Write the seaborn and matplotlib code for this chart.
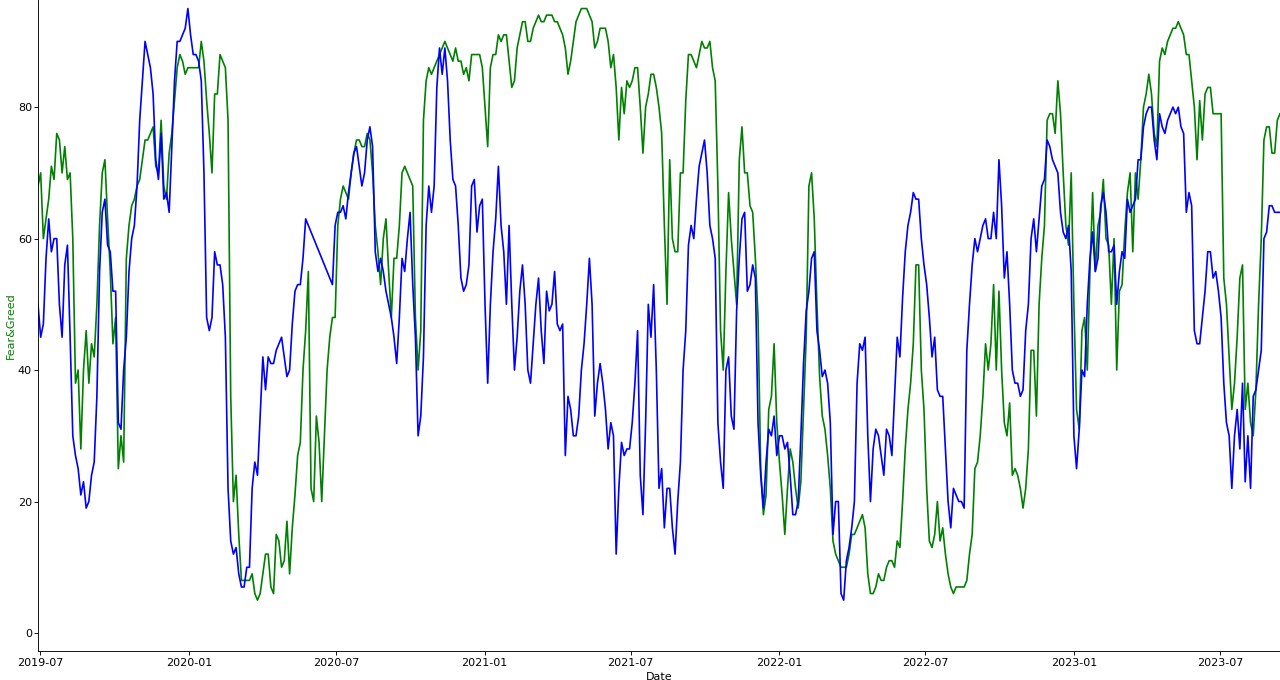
import numpy as np
import pandas as pd
import matplotlib
matplotlib.use("Agg")
import matplotlib.pyplot as plt
import matplotlib.dates as mdates
import seaborn as sns

# values, about twice a week
start_date = "2019-06-28"
end_date = "2023-09-13"

# readings on the weekly grid
fear_greed_week = [
    68, 60, 66, 69, 75, 74, 70, 38, 28, 46,
    44, 50, 70, 63, 44, 25, 26, 62, 66, 69,
    75, 76, 71, 78, 66, 76, 86, 87, 86, 86,
    86, 87, 76, 82, 88, 86, 36, 24, 8, 8,
    9, 5, 9, 12, 6, 14, 11, 9, 21, 29,
    46, 22, 33, 20, 40, 48, 62, 68, 66, 73,
    75, 74, 75, 62, 53, 63, 48, 57, 70, 70,
    68, 40, 78, 86, 86, 88, 90, 88, 89, 87,
    86, 88, 88, 86, 74, 88, 91, 91, 87, 84,
    91, 93, 90, 93, 93, 94, 94, 93, 91, 85,
    90, 94, 95, 94, 89, 92, 92, 86, 83, 83,
    84, 84, 86, 73, 82, 85, 80, 62, 72, 58,
    70, 81, 88, 86, 90, 89, 86, 68, 40, 67,
    55, 72, 70, 65, 57, 25, 21, 36, 32, 21,
    22, 26, 19, 34, 68, 63, 39, 31, 22, 12,
    10, 10, 15, 16, 18, 9, 6, 9, 8, 11,
    10, 13, 28, 38, 56, 40, 22, 13, 20, 16,
    9, 6, 7, 7, 12, 25, 30, 44, 44, 40,
    40, 30, 24, 24, 19, 28, 43, 50, 62, 79,
    76, 79, 62, 70, 34, 46, 40, 67, 62, 69,
    59, 60, 52, 61, 70, 70, 72, 82, 82, 74,
    89, 90, 92, 93, 91, 88, 80, 81, 82, 83,
    79, 79, 50, 34, 45, 56, 38, 30, 50, 75,
    77, 73, 79,
]

# readings half-way between the weekly grid points
fear_greed_mid = [
    70, 63, 71, 76, 70, 69, 60, 40, 40, 38,
    42, 62, 72, 55, 48, 30, 57, 65, 68, 72,
    75, 77, 70, 68, 73, 81, 88, 85, 86, 86,
    90, 81, 70, 82, 87, 78, 20, 15, 8, 8,
    6, 6, 12, 7, 15, 10, 17, 16, 27, 40,
    55, 20, 29, 30, 45, 48, 66, 67, 70, 75,
    74, 76, 70, 58, 60, 55, 57, 62, 71, 69,
    48, 46, 84, 85, 87, 89, 89, 87, 87, 85,
    84, 88, 88, 80, 86, 88, 90, 91, 83, 89,
    93, 90, 92, 94, 93, 94, 93, 92, 89, 87,
    93, 95, 95, 93, 90, 92, 90, 88, 75, 79,
    83, 86, 80, 80, 85, 83, 76, 50, 60, 58,
    70, 88, 87, 88, 89, 90, 84, 46, 55, 60,
    50, 77, 70, 64, 48, 18, 34, 44, 26, 15,
    28, 22, 23, 45, 70, 50, 33, 27, 14, 11,
    10, 12, 15, 17, 16, 6, 7, 8, 10, 11,
    14, 20, 34, 44, 56, 34, 14, 15, 14, 12,
    7, 7, 7, 8, 15, 26, 36, 40, 53, 52,
    32, 35, 25, 22, 22, 43, 33, 57, 78, 79,
    84, 70, 59, 50, 31, 48, 55, 55, 64, 60,
    50, 40, 53, 67, 58, 66, 80, 85, 76, 87,
    88, 91, 92, 92, 88, 84, 72, 75, 83, 79,
    79, 54, 42, 38, 54, 34, 32, 37, 60, 77,
    73, 78,
]

other_week = [
    50, 47, 63, 60, 50, 56, 45, 27, 21, 19,
    24, 36, 64, 59, 52, 32, 40, 55, 62, 78,
    90, 86, 72, 76, 67, 74, 90, 91, 95, 88,
    87, 70, 46, 58, 56, 45, 14, 13, 7, 10,
    22, 24, 42, 42, 41, 44, 42, 40, 52, 53,
    63, np.nan, np.nan, np.nan, np.nan, 53, 64, 65, 67, 73,
    71, 70, 77, 58, 57, 52, 48, 41, 57, 60,
    53, 30, 42, 68, 68, 89, 89, 75, 68, 54,
    53, 68, 61, 66, 38, 58, 71, 58, 62, 40,
    52, 50, 38, 50, 46, 52, 50, 47, 47, 36,
    30, 33, 44, 57, 33, 41, 34, 32, 12, 29,
    28, 32, 46, 18, 50, 53, 22, 16, 22, 12,
    26, 46, 62, 66, 73, 70, 60, 32, 22, 42,
    31, 57, 64, 53, 54, 24, 26, 30, 27, 30,
    29, 18, 20, 41, 52, 58, 43, 40, 32, 20,
    6, 11, 16, 38, 43, 30, 28, 30, 24, 30,
    36, 42, 58, 64, 66, 60, 53, 42, 37, 36,
    20, 22, 20, 19, 50, 60, 60, 63, 60, 60,
    65, 58, 40, 38, 37, 50, 63, 63, 69, 74,
    71, 64, 60, 55, 25, 40, 50, 61, 57, 67,
    58, 59, 55, 57, 64, 66, 72, 79, 80, 72,
    77, 78, 80, 80, 76, 67, 46, 44, 52, 58,
    55, 48, 32, 22, 34, 38, 30, 36, 40, 60,
    65, 64, 64,
]

other_mid = [
    45, 57, 58, 60, 45, 59, 30, 25, 23, 20,
    26, 55, 66, 58, 52, 31, 45, 60, 68, 84,
    88, 82, 69, 66, 64, 84, 90, 92, 91, 88,
    84, 48, 48, 56, 53, 22, 12, 9, 7, 10,
    26, 33, 37, 41, 43, 45, 39, 47, 53, 57,
    np.nan, np.nan, np.nan, np.nan, np.nan, 62, 64, 63, 70, 74,
    68, 75, 74, 55, 55, 50, 45, 48, 55, 64,
    45, 33, 62, 64, 83, 85, 84, 69, 62, 52,
    56, 69, 65, 50, 50, 63, 62, 50, 50, 45,
    56, 40, 44, 54, 41, 49, 55, 46, 27, 34,
    30, 40, 50, 50, 38, 38, 28, 30, 22, 27,
    28, 38, 24, 32, 45, 40, 25, 22, 16, 20,
    40, 59, 60, 71, 75, 62, 57, 26, 40, 33,
    49, 63, 52, 56, 32, 19, 31, 33, 30, 28,
    24, 18, 30, 49, 57, 46, 39, 38, 15, 20,
    5, 13, 20, 44, 45, 20, 31, 27, 31, 27,
    45, 51, 62, 67, 66, 56, 48, 45, 36, 28,
    16, 21, 20, 43, 56, 58, 62, 60, 64, 72,
    54, 50, 38, 36, 46, 60, 58, 68, 75, 72,
    70, 61, 62, 30, 31, 39, 57, 55, 65, 64,
    58, 50, 58, 66, 65, 72, 77, 80, 75, 79,
    76, 79, 79, 77, 64, 65, 44, 48, 58, 54,
    52, 38, 30, 30, 28, 23, 22, 37, 43, 61,
    65, 64,
]


def merge(week, mid):
    out = np.empty(len(week) + len(mid))
    out[0::2] = week
    out[1::2] = mid
    return out


fear_greed = merge(fear_greed_week, fear_greed_mid)
other_index = merge(other_week, other_mid)
dates = pd.date_range(start_date, end_date, periods=len(fear_greed))

df_fg = pd.DataFrame({"Date": dates, "value": fear_greed})
df_other = pd.DataFrame({"Date": dates, "value": other_index}).dropna()

fig = plt.figure(figsize=(16, 8.5), dpi=80)
ax = fig.add_axes([38 / 1280, 29 / 680, 1242 / 1280, 651 / 680])

sns.lineplot(data=df_fg, x="Date", y="value", color="green", linewidth=1.5,
             errorbar=None, ax=ax)
sns.lineplot(data=df_other, x="Date", y="value", color="blue", linewidth=1.5,
             errorbar=None, ax=ax)

ax.set_xlim(pd.Timestamp(start_date), pd.Timestamp(end_date))
ax.set_ylim(-2.74, 96.3)
ax.set_yticks([0, 20, 40, 60, 80])
ax.xaxis.set_major_locator(mdates.MonthLocator(bymonth=[1, 7]))
ax.xaxis.set_major_formatter(mdates.DateFormatter("%Y-%m"))
ax.tick_params(axis="x", labelsize=10, length=3.5, pad=3)
ax.tick_params(axis="y", labelsize=10, length=3.5, pad=2)
ax.set_xlabel("Date", fontsize=10, labelpad=3)
ax.set_ylabel("Fear&Greed", color="green", fontsize=10, labelpad=2)
sns.despine(ax=ax)

fig.savefig("out.png", dpi=80)
